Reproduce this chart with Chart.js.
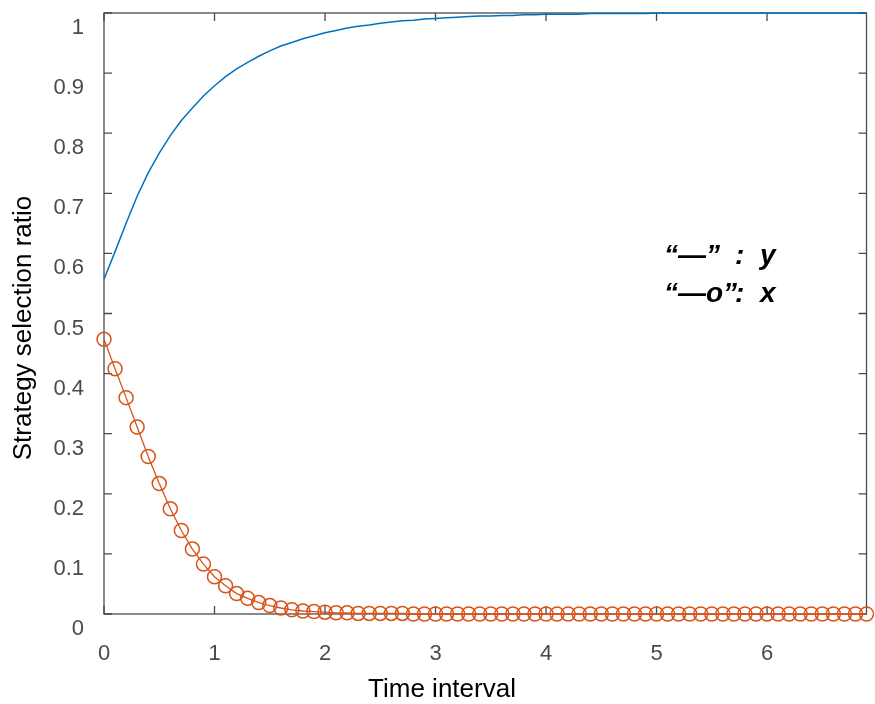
<!DOCTYPE html>
<html>
<head>
<meta charset="utf-8">
<script src="https://cdn.jsdelivr.net/npm/chart.js@4.4.0/dist/chart.umd.min.js"></script>
<style>
  html, body { margin: 0; padding: 0; background: #fff; }
  #wrap { width: 875px; height: 704px; position: relative; }
</style>
</head>
<body>
<div id="wrap"><canvas id="myChart"></canvas></div>
<script>
// time points (x axis)
const timeValues = [
  0.0, 0.1, 0.2, 0.3, 0.4, 0.5, 0.6, 0.7, 0.8, 0.9,
  1.0, 1.1, 1.2, 1.3, 1.4, 1.5, 1.6, 1.7, 1.8, 1.9,
  2.0, 2.1, 2.2, 2.3, 2.4, 2.5, 2.6, 2.7, 2.8, 2.9,
  3.0, 3.1, 3.2, 3.3, 3.4, 3.5, 3.6, 3.7, 3.8, 3.9,
  4.0, 4.1, 4.2, 4.3, 4.4, 4.5, 4.6, 4.7, 4.8, 4.9,
  5.0, 5.1, 5.2, 5.3, 5.4, 5.5, 5.6, 5.7, 5.8, 5.9,
  6.0, 6.1, 6.2, 6.3, 6.4, 6.5, 6.6, 6.7, 6.8, 6.9
];

// y : blue line
const yValues = [
  0.557, 0.603, 0.650, 0.695, 0.734, 0.767, 0.796, 0.821, 0.842, 0.862,
  0.879, 0.894, 0.907, 0.918, 0.928, 0.937, 0.945, 0.951, 0.957, 0.962,
  0.967, 0.971, 0.975, 0.978, 0.980, 0.983, 0.985, 0.987, 0.988, 0.990,
  0.991, 0.992, 0.993, 0.994, 0.995, 0.995, 0.996, 0.996, 0.997, 0.997,
  0.998, 0.998, 0.998, 0.998, 0.999, 0.999, 0.999, 0.999, 0.999, 0.999,
  1.000, 1.000, 1.000, 1.000, 1.000, 1.000, 1.000, 1.000, 1.000, 1.000,
  1.000, 1.000, 1.000, 1.000, 1.000, 1.000, 1.000, 1.000, 1.000, 1.000
];

// x : orange line with circles
const xValues = [
  0.457, 0.408, 0.360, 0.311, 0.262, 0.217, 0.175, 0.139, 0.108, 0.083,
  0.062, 0.047, 0.034, 0.026, 0.019, 0.014, 0.010, 0.007, 0.005, 0.004,
  0.003, 0.002, 0.002, 0.001, 0.001, 0.001, 0.001, 0.001, 0.000, 0.000,
  0.000, 0.000, 0.000, 0.000, 0.000, 0.000, 0.000, 0.000, 0.000, 0.000,
  0.000, 0.000, 0.000, 0.000, 0.000, 0.000, 0.000, 0.000, 0.000, 0.000,
  0.000, 0.000, 0.000, 0.000, 0.000, 0.000, 0.000, 0.000, 0.000, 0.000,
  0.000, 0.000, 0.000, 0.000, 0.000, 0.000, 0.000, 0.000, 0.000, 0.000
];

const xTickValues = [0, 1, 2, 3, 4, 5, 6];
const yTickValues = [0, 0.1, 0.2, 0.3, 0.4, 0.5, 0.6, 0.7, 0.8, 0.9, 1];
const yTickLabels = ["0", "0.1", "0.2", "0.3", "0.4", "0.5", "0.6", "0.7", "0.8", "0.9", "1"];

const xTitle = "Time interval";
const yTitle = "Strategy selection ratio";

const axisColor = "#4a4a4a";
const tickFont = { family: "'Liberation Sans', Arial, sans-serif", size: 22 };

// box around the plot, ticks pointing inward, titles and the text note
const boxPlugin = {
  id: "boxPlugin",
  beforeDatasetsDraw(chart) {
    const ctx = chart.ctx;
    const area = chart.chartArea;
    const sx = chart.scales.x;
    const sy = chart.scales.y;
    ctx.save();
    ctx.strokeStyle = axisColor;
    ctx.lineWidth = 1.3;
    ctx.strokeRect(area.left, area.top, area.right - area.left, area.bottom - area.top);
    ctx.beginPath();
    xTickValues.forEach(function (v) {
      const px = sx.getPixelForValue(v);
      ctx.moveTo(px, area.bottom);
      ctx.lineTo(px, area.bottom - 8);
      ctx.moveTo(px, area.top);
      ctx.lineTo(px, area.top + 8);
    });
    yTickValues.forEach(function (v) {
      const py = sy.getPixelForValue(v);
      ctx.moveTo(area.left, py);
      ctx.lineTo(area.left + 8, py);
      ctx.moveTo(area.right, py);
      ctx.lineTo(area.right - 8, py);
    });
    ctx.stroke();
    ctx.restore();
  },
  afterDraw(chart) {
    const ctx = chart.ctx;
    ctx.save();
    ctx.fillStyle = "#000";
    ctx.font = "26px 'Liberation Sans', Arial, sans-serif";
    ctx.textAlign = "center";
    ctx.textBaseline = "middle";
    ctx.fillText(xTitle, 442, 690);

    ctx.translate(24, 328);
    ctx.rotate(-Math.PI / 2);
    ctx.fillText(yTitle, 0, 0);
    ctx.restore();

    // note in the plot
    ctx.save();
    ctx.fillStyle = "#000";
    ctx.font = "italic bold 28px 'Liberation Sans', Arial, sans-serif";
    ctx.textAlign = "left";
    ctx.textBaseline = "alphabetic";
    ctx.fillText("\u201C\u2014\u201D", 664, 264);
    ctx.fillText(":", 735, 264);
    ctx.fillText("y", 760, 264);
    ctx.fillText("\u201C\u2014o\u201D", 664, 302);
    ctx.fillText(":", 735, 302);
    ctx.fillText("x", 760, 302);
    ctx.restore();
  }
};

const ctx = document.getElementById("myChart");

new Chart(ctx, {
  type: "line",
  data: {
    datasets: [
      {
        label: "y",
        data: timeValues.map(function (t, i) { return { x: t, y: yValues[i] }; }),
        borderColor: "#0072BD",
        borderWidth: 1.5,
        pointRadius: 0,
        fill: false,
        tension: 0,
        clip: false
      },
      {
        label: "x",
        data: timeValues.map(function (t, i) { return { x: t, y: xValues[i] }; }),
        borderColor: "#D95319",
        borderWidth: 1.3,
        pointRadius: 7,
        pointBorderWidth: 1.5,
        pointBackgroundColor: "rgba(0,0,0,0)",
        pointBorderColor: "#D95319",
        pointStyle: "circle",
        fill: false,
        tension: 0,
        clip: false
      }
    ]
  },
  options: {
    responsive: true,
    maintainAspectRatio: false,
    animation: false,
    layout: { padding: { left: 0, top: 13, right: 7, bottom: 0 } },
    plugins: {
      legend: { display: false },
      tooltip: { enabled: false }
    },
    scales: {
      x: {
        type: "linear",
        min: 0,
        max: 6.9,
        grid: { display: false },
        border: { display: false },
        ticks: {
          stepSize: 1,
          includeBounds: false,
          color: axisColor,
          font: tickFont,
          padding: 19,
          maxRotation: 0
        },
        afterBuildTicks(scale) {
          scale.ticks = xTickValues.map(function (v) { return { value: v }; });
        },
        afterFit(scale) {
          scale.height = 90;
          scale.paddingLeft = 0;
          scale.paddingRight = 0;
        }
      },
      y: {
        type: "linear",
        min: 0,
        max: 1,
        grid: { display: false },
        border: { display: false },
        ticks: {
          stepSize: 0.1,
          color: axisColor,
          font: tickFont,
          padding: 12,
          labelOffset: 15,
          callback: function (value, index) {
            return yTickLabels[index];
          }
        },
        afterBuildTicks(scale) {
          scale.ticks = yTickValues.map(function (v) { return { value: v }; });
        },
        afterFit(scale) {
          scale.width = 104;
          scale.paddingTop = 0;
          scale.paddingBottom = 0;
        }
      }
    }
  },
  plugins: [boxPlugin]
});
</script>
</body>
</html>
